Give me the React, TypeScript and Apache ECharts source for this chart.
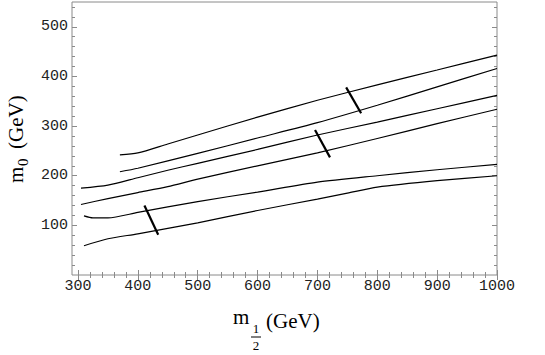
import React, { useEffect, useRef } from "react";
import * as echarts from "echarts";

// m_{1/2} (GeV) and m_0 (GeV) values of each contour
const c1x = [370, 400, 450, 500, 600, 700, 800, 900, 1000];
const c1y = [242, 246, 264, 282, 318, 352, 383, 413, 443];
const c2x = [370, 400, 500, 600, 700, 800, 900, 1000];
const c2y = [208, 215, 245, 276, 307, 342, 379, 416];
const c3x = [305, 350, 400, 450, 500, 600, 700, 800, 900, 1000];
const c3y = [175, 181, 196, 211, 225, 253, 282, 308, 335, 362];
const c4x = [305, 350, 400, 450, 500, 600, 700, 800, 900, 1000];
const c4y = [142, 154, 166, 178, 193, 220, 246, 275, 305, 334];
const c5x = [310, 325, 350, 400, 500, 600, 700, 800, 900, 1000];
const c5y = [119, 115, 115, 126, 148, 167, 187, 200, 212, 223];
const c6x = [310, 350, 400, 500, 600, 700, 750, 800, 900, 1000];
const c6y = [59, 73, 83, 105, 130, 153, 165, 177, 190, 200];

// short thick cross markers (start/end points)
const mAx = [748, 773];
const mAy = [378, 326];
const mBx = [696, 721];
const mBy = [292, 237];
const mCx = [411, 434];
const mCy = [140, 81];

const xMajor = [300, 400, 500, 600, 700, 800, 900, 1000];
const yMajor = [100, 200, 300, 400, 500];
const xMinor: number[] = [];
for (let v = 300; v <= 1000; v += 20) xMinor.push(v);
const yMinor: number[] = [];
for (let v = 20; v <= 540; v += 20) yMinor.push(v);

const zip = (xs: number[], ys: number[]) => xs.map((x, i) => [x, ys[i]]);

const TICK = "#8a8a8a";
const LABEL_FONT = "Liberation Mono";

function axisBase(extra: any) {
  return {
    type: "value",
    axisLine: { show: false },
    splitLine: { show: false },
    ...extra,
  };
}

export default function App() {
  const ref = useRef<HTMLDivElement>(null);
  useEffect(() => {
    if (!ref.current) return;
    const chart = echarts.init(ref.current, null, { renderer: "svg" });
    const xCommon = { min: 290, max: 1000 };
    const yCommon = { min: 0, max: 550 };
    const lineSeries = (xs: number[], ys: number[], w: number) => ({
      type: "line",
      xAxisIndex: 0,
      yAxisIndex: 0,
      data: zip(xs, ys),
      symbol: "none",
      showSymbol: false,
      smooth: w > 1.5 ? false : 0.25,
      lineStyle: { color: "#000", width: w },
      emphasis: { disabled: true },
      silent: true,
    });
    const plain = (v: number) => String(v);
    chart.setOption({
      animation: false,
      backgroundColor: "#fff",
      grid: {
        left: 72,
        right: 48,
        top: 2,
        bottom: 80,
        show: true,
        borderColor: "#8a8a8a",
        borderWidth: 1,
        backgroundColor: "transparent",
      },
      xAxis: [
        axisBase({
          ...xCommon,
          position: "bottom",
          axisTick: { inside: true, length: 5, customValues: xMajor, lineStyle: { color: TICK } },
          axisLabel: {
            customValues: xMajor,
            formatter: plain,
            margin: 4,
            fontFamily: LABEL_FONT,
            fontSize: 15,
            color: "#222",
          },
        }),
        axisBase({
          ...xCommon,
          position: "bottom",
          axisTick: { inside: true, length: 3, customValues: xMinor, lineStyle: { color: TICK } },
          axisLabel: { show: false },
        }),
        axisBase({
          ...xCommon,
          position: "top",
          axisTick: { inside: true, length: 5, customValues: xMajor, lineStyle: { color: TICK } },
          axisLabel: { show: false },
        }),
        axisBase({
          ...xCommon,
          position: "top",
          axisTick: { inside: true, length: 3, customValues: xMinor, lineStyle: { color: TICK } },
          axisLabel: { show: false },
        }),
      ],
      yAxis: [
        axisBase({
          ...yCommon,
          position: "left",
          axisTick: { inside: true, length: 5, customValues: yMajor, lineStyle: { color: TICK } },
          axisLabel: {
            customValues: yMajor,
            formatter: plain,
            margin: 4,
            fontFamily: LABEL_FONT,
            fontSize: 15,
            color: "#222",
          },
        }),
        axisBase({
          ...yCommon,
          position: "left",
          axisTick: { inside: true, length: 3, customValues: yMinor, lineStyle: { color: TICK } },
          axisLabel: { show: false },
        }),
        axisBase({
          ...yCommon,
          position: "right",
          axisTick: { inside: true, length: 5, customValues: yMajor, lineStyle: { color: TICK } },
          axisLabel: { show: false },
        }),
        axisBase({
          ...yCommon,
          position: "right",
          axisTick: { inside: true, length: 3, customValues: yMinor, lineStyle: { color: TICK } },
          axisLabel: { show: false },
        }),
      ],
      series: [
        lineSeries(c1x, c1y, 1.2),
        lineSeries(c2x, c2y, 1.2),
        lineSeries(c3x, c3y, 1.2),
        lineSeries(c4x, c4y, 1.2),
        lineSeries(c5x, c5y, 1.2),
        lineSeries(c6x, c6y, 1.2),
        lineSeries(mAx, mAy, 2.2),
        lineSeries(mBx, mBy, 2.2),
        lineSeries(mCx, mCy, 2.2),
      ],
      graphic: [
        // y-axis title: m_0 (GeV), rotated
        {
          type: "group",
          x: 16,
          y: 183,
          rotation: Math.PI / 2,
          children: [
            {
              type: "text",
              x: 0,
              y: 0,
              style: {
                text: "m",
                font: '21px "Liberation Serif"',
                fill: "#000",
                align: "left",
                verticalAlign: "middle",
              },
            },
            {
              type: "text",
              x: 17,
              y: 7,
              style: {
                text: "0",
                font: '15px "Liberation Serif"',
                fill: "#000",
                align: "left",
                verticalAlign: "middle",
              },
            },
            {
              type: "text",
              x: 34,
              y: 0,
              style: {
                text: "(GeV)",
                font: '21px "Liberation Serif"',
                fill: "#000",
                align: "left",
                verticalAlign: "middle",
              },
            },
          ],
        },
        // x-axis title: m_{1/2} (GeV)
        {
          type: "text",
          x: 233,
          y: 327,
          style: {
            text: "m",
            font: '21px "Liberation Serif"',
            fill: "#000",
            align: "left",
            verticalAlign: "bottom",
          },
        },
        {
          type: "text",
          x: 256,
          y: 335,
          style: {
            text: "1",
            font: '13px "Liberation Serif"',
            fill: "#000",
            align: "center",
            verticalAlign: "bottom",
          },
        },
        {
          type: "line",
          shape: { x1: 251, y1: 337, x2: 261, y2: 337 },
          style: { stroke: "#000", lineWidth: 1 },
        },
        {
          type: "text",
          x: 256,
          y: 339,
          style: {
            text: "2",
            font: '13px "Liberation Serif"',
            fill: "#000",
            align: "center",
            verticalAlign: "top",
          },
        },
        {
          type: "text",
          x: 266,
          y: 331,
          style: {
            text: "(GeV)",
            font: '21px "Liberation Serif"',
            fill: "#000",
            align: "left",
            verticalAlign: "bottom",
          },
        },
      ],
    });
    return () => chart.dispose();
  }, []);
  return (
    <div
      ref={ref}
      style={{ position: "fixed", left: 0, top: 0, width: 545, height: 355 }}
    />
  );
}
